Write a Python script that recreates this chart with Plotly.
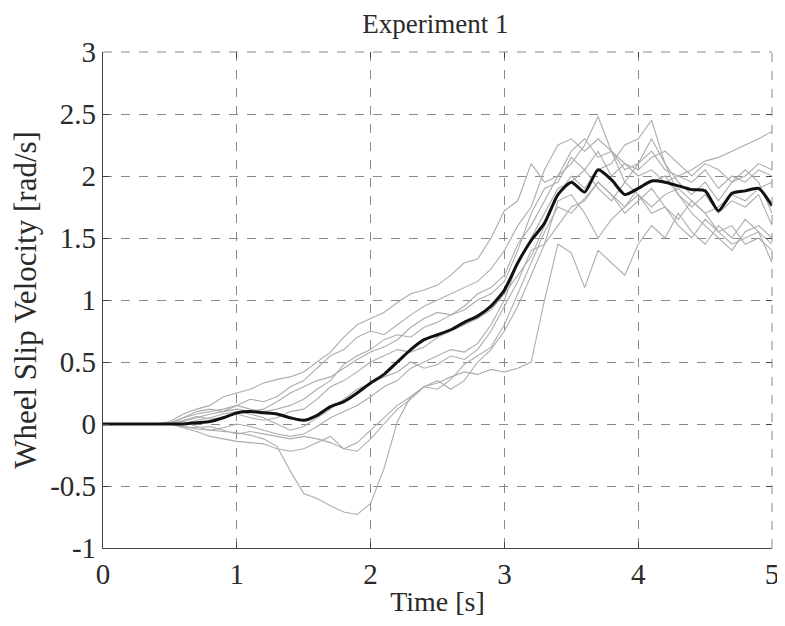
import plotly.graph_objects as go

time = [round(i * 0.1, 1) for i in range(51)]

Z = [0, 0, 0, 0, 0]
trial_1 = Z + [0, -0.02, -0.04, -0.05, -0.06, -0.07, -0.09, -0.12, -0.18, -0.38, -0.56, -0.6, -0.66, -0.71, -0.73,
               -0.64, -0.36, 0.02, 0.22, 0.3, 0.28, 0.36, 0.48, 0.55, 0.62, 0.8, 1.05, 1.3, 1.55, 1.75, 1.7,
               1.82, 1.95, 1.85, 1.7, 1.8, 1.9, 1.75, 1.65, 1.8, 1.7, 1.55, 1.6, 1.45, 1.5, 1.4]
trial_2 = Z + [0, -0.03, -0.06, -0.1, -0.12, -0.14, -0.15, -0.16, -0.2, -0.22, -0.2, -0.15, -0.1, -0.2, -0.15,
               -0.05, 0.05, 0.15, 0.22, 0.3, 0.33, 0.38, 0.42, 0.4, 0.44, 0.42, 0.45, 0.5, 1.0, 1.45, 1.38,
               1.1, 1.4, 1.3, 1.2, 1.45, 1.6, 1.5, 1.7, 1.55, 1.45, 1.6, 1.5, 1.65, 1.55, 1.3]
trial_3 = Z + [0.02, 0.08, 0.12, 0.15, 0.22, 0.25, 0.28, 0.33, 0.36, 0.38, 0.42, 0.5, 0.58, 0.7, 0.8,
               0.85, 0.9, 0.98, 1.05, 1.08, 1.12, 1.2, 1.3, 1.33, 1.5, 1.72, 1.8, 2.1, 1.95, 2.0, 2.2,
               2.3, 2.15, 2.2, 2.05, 2.1, 2.2, 2.05, 2.0, 1.95, 2.05, 1.9, 2.0, 1.95, 2.05, 2.0]
trial_4 = Z + [0, 0.05, 0.1, 0.12, 0.1, 0.15, 0.2, 0.18, 0.22, 0.3, 0.35, 0.45, 0.55, 0.6, 0.7,
               0.75, 0.72, 0.8, 0.88, 0.95, 1.0, 1.05, 1.1, 1.15, 1.25, 1.4, 1.6, 1.75, 2.05, 2.25, 2.3,
               2.2, 2.3, 2.2, 2.1, 2.0, 2.05, 1.95, 2.0, 2.05, 2.12, 2.15, 2.2, 2.25, 2.3, 2.36]
trial_5 = Z + [0, 0.02, 0.05, 0.08, 0.1, 0.12, 0.1, 0.12, 0.18, 0.25, 0.3, 0.35, 0.38, 0.45, 0.52,
               0.58, 0.62, 0.68, 0.78, 0.85, 0.9, 0.88, 0.95, 1.05, 1.1, 1.2, 1.45, 1.6, 1.8, 2.0, 2.1,
               2.25, 2.48, 2.2, 1.95, 2.1, 2.3, 2.1, 1.95, 1.85, 1.95, 1.8, 1.95, 2.05, 1.95, 1.7]
trial_6 = Z + [0, 0.03, 0.06, 0.04, 0.05, 0.08, 0.05, 0.03, 0.05, 0.1, 0.12, 0.2, 0.3, 0.35, 0.42,
               0.5, 0.55, 0.6, 0.58, 0.62, 0.7, 0.75, 0.8, 0.85, 0.92, 1.05, 1.2, 1.35, 1.6, 1.85, 2.0,
               1.9, 2.05, 2.1, 2.25, 2.3, 2.45, 2.1, 1.85, 1.7, 1.6, 1.5, 1.4, 1.55, 1.6, 1.5]
trial_7 = Z + [0, 0.02, -0.02, -0.05, -0.03, 0.0, -0.02, -0.05, -0.08, -0.1, -0.08, -0.02, 0.05, 0.1, 0.15,
               0.22, 0.3, 0.35, 0.45, 0.5, 0.55, 0.6, 0.58, 0.65, 0.8, 1.0, 1.3, 1.5, 1.7, 1.9, 1.95,
               2.05, 1.9, 1.8, 1.95, 1.85, 1.75, 1.85, 1.9, 1.8, 1.7, 1.75, 1.85, 1.8, 1.9, 1.95]
trial_8 = Z + [0, -0.02, -0.03, -0.02, -0.05, -0.08, -0.06, -0.08, -0.1, -0.12, -0.1, -0.12, -0.15, -0.2, -0.22,
               -0.12, 0.0, 0.12, 0.2, 0.3, 0.35, 0.28, 0.35, 0.5, 0.6, 0.75, 0.95, 1.2, 1.45, 1.6, 1.75,
               1.8, 1.95, 1.85, 1.75, 1.9, 1.95, 2.0, 1.85, 1.75, 1.85, 1.7, 1.8, 1.75, 1.85, 1.6]
trial_9 = Z + [0.01, 0.05, 0.08, 0.1, 0.12, 0.15, 0.12, 0.1, 0.12, 0.15, 0.2, 0.28, 0.35, 0.48, 0.55,
               0.6, 0.68, 0.72, 0.7, 0.78, 0.82, 0.88, 0.92, 1.0, 1.05, 1.15, 1.4, 1.7, 1.9, 1.95, 2.15,
               2.05, 2.2, 2.0, 2.1, 2.05, 2.15, 2.2, 2.1, 2.0, 2.1, 2.05, 1.95, 2.0, 2.1, 2.05]
trial_10 = Z + [0, 0.0, 0.03, 0.05, 0.08, 0.1, 0.08, 0.05, 0.0, -0.05, -0.02, 0.05, 0.12, 0.2, 0.28,
                0.33, 0.38, 0.42, 0.5, 0.45, 0.48, 0.55, 0.52, 0.6, 0.75, 0.95, 1.15, 1.4, 1.45, 1.8, 1.85,
                1.7, 1.5, 1.65, 1.75, 1.85, 1.7, 1.75, 1.6, 1.5, 1.65, 1.55, 1.45, 1.5, 1.55, 1.45]

mean_vel = Z + [0, 0.0, 0.01, 0.02, 0.05, 0.09, 0.1, 0.09, 0.08, 0.05, 0.03, 0.07, 0.14, 0.18, 0.25,
                0.33, 0.4, 0.5, 0.6, 0.68, 0.72, 0.76, 0.82, 0.87, 0.95, 1.08, 1.3, 1.48, 1.62, 1.85, 1.95,
                1.87, 2.05, 1.97, 1.85, 1.9, 1.96, 1.95, 1.92, 1.89, 1.88, 1.72, 1.86, 1.88, 1.9, 1.76]

trials = [trial_1, trial_2, trial_3, trial_4, trial_5, trial_6, trial_7, trial_8, trial_9, trial_10]

x_ticks = [0, 1, 2, 3, 4, 5]
y_ticks = [-1, -0.5, 0, 0.5, 1, 1.5, 2, 2.5, 3]
y_tick_text = ["-1", "-0.5", "0", "0.5", "1", "1.5", "2", "2.5", "3"]

FONT = "Liberation Serif, Times New Roman, serif"
TXT = "#2a2a2a"

fig = go.Figure()
for tr in trials:
    fig.add_trace(go.Scatter(x=time, y=tr, mode="lines",
                             line=dict(color="#acacac", width=1.1), showlegend=False,
                             hoverinfo="skip"))
fig.add_trace(go.Scatter(x=time, y=mean_vel, mode="lines", line_shape="spline",
                         line=dict(color="#111111", width=3, smoothing=0.6), showlegend=False))
# helper trace so the mirrored tick axes are drawn
fig.add_trace(go.Scatter(x=[None], y=[None], xaxis="x2", yaxis="y2", showlegend=False,
                         hoverinfo="skip"))

axis_common = dict(showgrid=True, gridcolor="#8a8a8a", griddash="dash", gridwidth=1,
                   zeroline=False, ticks="inside", ticklen=6, tickcolor="#444",
                   showline=True, linecolor="#444", linewidth=1.2,
                   tickfont=dict(family=FONT, size=29, color=TXT))

fig.update_layout(
    width=777, height=610,
    paper_bgcolor="white", plot_bgcolor="white",
    margin=dict(l=95, r=13, t=44, b=70),
    title=dict(text="Experiment 1", x=0.55, xref="container", xanchor="center",
               y=0.975, yref="container", yanchor="middle",
               font=dict(family=FONT, size=27, color=TXT)),
    xaxis=dict(range=[0, 5], tickvals=x_ticks, automargin=False,
               title=dict(text="Time [s]", standoff=2,
                          font=dict(family=FONT, size=28, color=TXT)), **axis_common),
    yaxis=dict(range=[-1, 3], tickvals=y_ticks, ticktext=y_tick_text,
               title=dict(text="Wheel Slip Velocity [rad/s]", standoff=8,
                          font=dict(family=FONT, size=31, color=TXT)), **axis_common),
    xaxis2=dict(range=[0, 5], overlaying="x", side="top", tickvals=x_ticks, ticks="inside",
                ticklen=6, tickcolor="#444", showticklabels=False, showgrid=False,
                zeroline=False, showline=False),
    yaxis2=dict(range=[-1, 3], overlaying="y", side="right", tickvals=y_ticks, ticks="inside",
                ticklen=6, tickcolor="#444", showticklabels=False, showgrid=False,
                zeroline=False, showline=False),
    shapes=[
        dict(type="line", xref="paper", yref="paper", x0=0, x1=1, y0=1, y1=1,
             line=dict(color="#8a8a8a", width=1, dash="dash")),
        dict(type="line", xref="paper", yref="paper", x0=1, x1=1, y0=0, y1=1,
             line=dict(color="#8a8a8a", width=1, dash="dash")),
    ],
)

fig.write_html("out.html")
